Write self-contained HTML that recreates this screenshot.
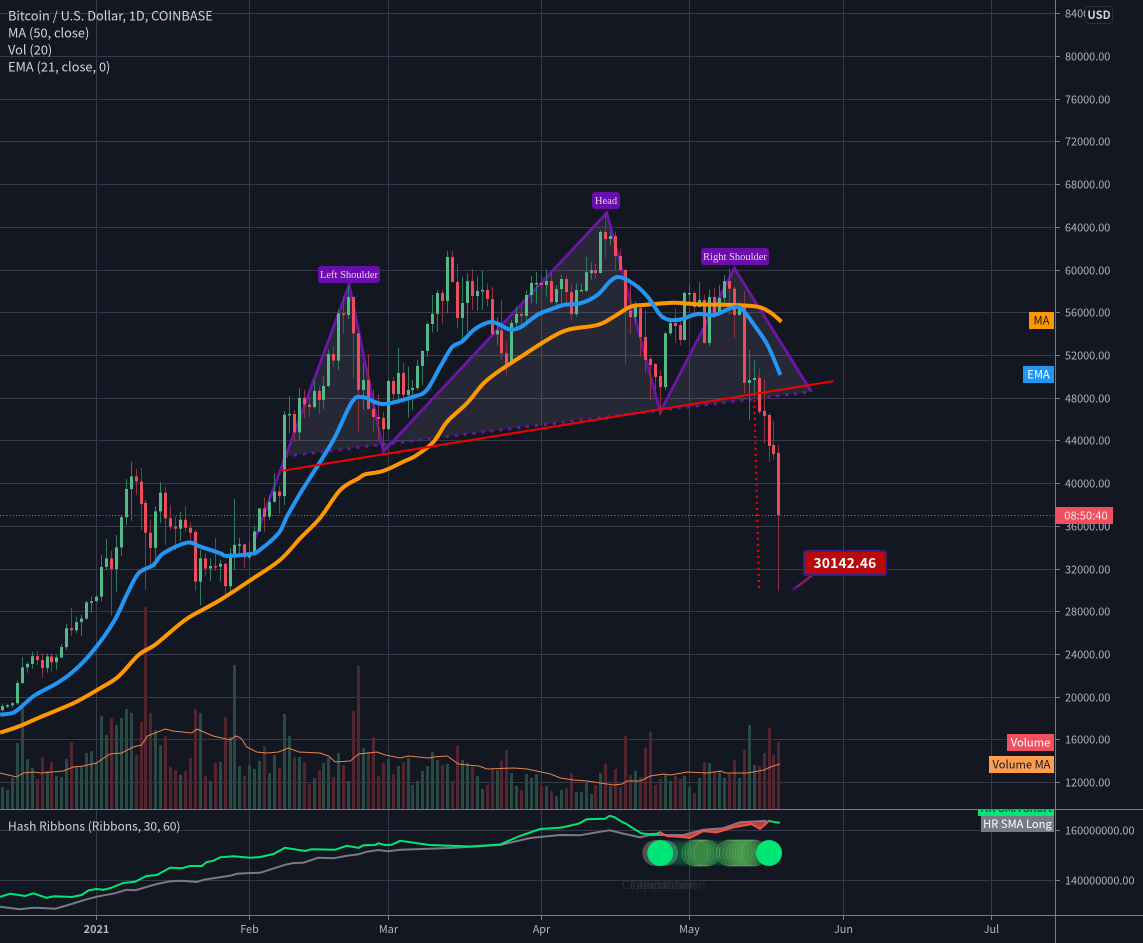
<!DOCTYPE html>
<html lang="en">
<head>
<meta charset="utf-8">
<title>Bitcoin / U.S. Dollar chart</title>
<style>
html,body{margin:0;padding:0;background:#131722;width:1143px;height:943px;overflow:hidden}
svg{display:block;position:absolute;left:0;top:0}
text{font-family:"Noto Sans CJK SC","Liberation Sans",sans-serif}
.ax{font-size:10.9px;fill:#b2b5be}
.lg{font-size:12.8px;fill:#d1d4dc}
.sf{font-family:"Liberation Serif",serif;font-size:10.5px;fill:#e6d0f2;text-anchor:middle}
.bx{font-size:11.2px;text-anchor:middle}
</style>
</head>
<body>
<svg id="c" width="1143" height="943" viewBox="0 0 1143 943" xmlns="http://www.w3.org/2000/svg">
  <defs>
    <clipPath id="mainClip"><rect x="0" y="0" width="1055" height="809"/></clipPath>
    <clipPath id="hashClip"><rect x="0" y="810" width="1055" height="105"/></clipPath>
    <clipPath id="hrClip"><rect x="970" y="810" width="90" height="6"/></clipPath>
  </defs>
  <rect x="0" y="0" width="1143" height="943" fill="#131722"/>
  <g id="grid"></g>
  <g id="volume" clip-path="url(#mainClip)"></g>
  <line x1="0" y1="515.5" x2="1055" y2="515.5" stroke="#ef5350" stroke-width="1" stroke-dasharray="1 2.2"/>
  <g id="pattern" clip-path="url(#mainClip)"></g>
  <g id="candles" clip-path="url(#mainClip)"></g>
  <g id="lines" clip-path="url(#mainClip)"></g>
  <g id="draw" clip-path="url(#mainClip)"></g>
  <g id="hash" clip-path="url(#hashClip)"></g>

  <g>
    <rect x="318" y="266" width="62" height="17" rx="3" fill="#6a0dad"/>
    <text class="sf" x="349" y="278">Left Shoulder</text>
    <rect x="592" y="192" width="28" height="17" rx="3" fill="#6a0dad"/>
    <text class="sf" x="606" y="204">Head</text>
    <rect x="701" y="248" width="68" height="17" rx="3" fill="#6a0dad"/>
    <text class="sf" x="735" y="260">Right Shoulder</text>
  </g>

  <g>
    <line x1="794" y1="589" x2="815" y2="573" stroke="#311b92" stroke-width="3"/>
    <line x1="797" y1="587" x2="815" y2="573" stroke="#b71c1c" stroke-width="1.5"/>
    <circle cx="794" cy="589" r="1.8" fill="#311b92"/>
    <rect x="804" y="551" width="82" height="24" rx="2" fill="#b80a0a" stroke="#38207f" stroke-width="2"/>
    <text x="845" y="568" text-anchor="middle" font-size="13.6" font-weight="700" fill="#fff" letter-spacing=".3">30142.46</text>
  </g>

  <text class="lg" x="8" y="20.5">Bitcoin / U.S. Dollar, 1D, COINBASE</text>
  <text class="lg" x="8" y="37.5">MA (50, close)</text>
  <text class="lg" x="8" y="54.5">Vol (20)</text>
  <text class="lg" x="8" y="71.5">EMA (21, close, 0)</text>
  <text class="lg" x="8" y="830.5" style="font-size:12px">Hash Ribbons (Ribbons, 30, 60)</text>

  <g id="watermark" fill="#2a2e39" font-size="11.5">
    <text x="622" y="889">Capitulation</text>
    <text x="630" y="889">Capitulation</text>
    <text x="639" y="889">Capitulation</text>
  </g>

  <line x1="0" y1="809.5" x2="1143" y2="809.5" stroke="#787b86"/>
  <line x1="0" y1="915.5" x2="1143" y2="915.5" stroke="#787b86"/>
  <line x1="1055.5" y1="0" x2="1055.5" y2="943" stroke="#787b86"/>

  <g id="axes"></g>

  <g>
    <rect x="1029" y="312" width="25" height="17" fill="#ff9800"/>
    <text class="bx" x="1041.5" y="324.5" fill="#131722">MA</text>
    <rect x="1023" y="366" width="31" height="17" fill="#2196f3"/>
    <text class="bx" x="1038.5" y="378.5" fill="#fff">EMA</text>
    <rect x="1007" y="734" width="47" height="17" fill="#ef5060"/>
    <text class="bx" x="1030.5" y="746.5" fill="#fff">Volume</text>
    <rect x="989" y="756" width="65" height="17" fill="#ff9d4d"/>
    <text class="bx" x="1021.5" y="768.5" fill="#131722">Volume MA</text>
    <rect x="978" y="810" width="76" height="6" fill="#00e676"/>
    <text class="bx" x="1016" y="812" fill="#131722" clip-path="url(#hrClip)">HR SMA Short</text>
    <rect x="981" y="816" width="73" height="16" fill="#787b86"/>
    <text class="bx" x="1017.5" y="828" fill="#fff">HR SMA Long</text>
    <rect x="1055" y="507" width="58" height="17" fill="#ef5060"/>
    <text class="bx" x="1086" y="519.5" fill="#ffe3e6">08:50:40</text>
    <rect x="1085.5" y="6.5" width="27" height="17" rx="3" fill="#131722" stroke="#2a2e39"/>
    <text class="bx" x="1099" y="19" fill="#d1d4dc" font-weight="700" font-size="10.5">USD</text>
  </g>
</svg>
<script>
/* ---------- data ---------- */
const firstDay = -19; /* days relative to 1 Jan 2021 */
const opens = [18790,19170,19270,19440,21340,22800,23120,23850,23480,22730,
23820,23270,23730,24700,26470,26270,27040,27370,28890,
28990,29410,32200,33000,31990,34030,36850,39500,40680,40200,
38200,35400,33990,37400,39150,36750,35970,35780,36620,35870,
35480,30820,33000,32050,32290,32240,32500,30400,33450,34270,
34320,33100,33500,35520,37680,36900,38300,39270,38830,46450,
46530,44790,48020,47400,47180,48680,47840,49140,52140,51520,
55950,55780,57480,54070,48770,49710,47000,46240,46150,45100,
49610,48400,50360,48300,48770,48950,51020,52420,54950,55900,
57850,57100,61220,58880,55510,56910,58970,57570,58040,58130,
57290,53980,54340,52200,51200,55040,55890,55700,57660,58690,
58780,58600,58970,57000,58220,59160,57940,55880,58050,58050,
59700,59980,59720,63560,62900,63180,61310,60000,56200,55600,
56450,53730,51670,51200,50080,49050,54070,55040,54850,53450,
57750,57850,56540,57200,53170,57480,55880,57380,58970,58250,
55790,56730,49430,49700,49900,46810,46430,43620,42870];
const highs = [19420,19350,19570,21560,23780,23300,24240,24340,24120,24120,
24120,23960,25000,26870,28360,27550,27710,29020,29420,
29600,33320,34820,33700,35200,37070,40440,42030,41380,41470,
38470,36600,37910,40150,39690,38000,36910,37380,37910,36410,
35660,33790,33480,33040,34920,32860,32560,33980,38570,34920,
34350,34570,36040,37720,38720,38940,40970,39780,46800,48210,
46900,48930,48770,48140,49710,49080,50020,52520,52850,56260,
57500,58600,57500,54070,51300,52140,48770,48400,46740,49800,
50010,52730,51300,50950,49700,51580,52510,55100,57660,58130,
58130,61780,61780,60560,59380,59690,60100,59380,59910,58750,
58440,55570,57200,53300,55320,56570,56570,58130,59440,59800,
59500,60060,59850,58600,59530,59440,58600,58750,58750,61250,
60690,60600,63750,65300,63590,63590,62000,60100,58750,57040,
56880,56250,52050,51270,50640,54230,55480,56410,55320,57970,
58600,57970,58910,57660,58130,58290,58600,59530,60160,58440,
57040,58040,52510,51580,50740,49800,46590,45870,43620];
const lows = [18700,19000,19050,19290,21230,22310,22690,23020,21840,22310,
22400,22560,23620,24430,25740,25990,25740,27240,27930,
28930,28960,31920,27650,29900,33230,36130,36510,38940,35670,
30050,32400,32230,36290,34260,35670,33790,34630,35510,34170,
29950,28640,31360,30890,31830,30800,29170,29860,31920,33420,
32110,32830,33330,35480,35480,36600,38220,37230,37980,44710,
43930,44000,46120,46270,47050,46590,47000,49020,50900,50640,
54070,55400,49860,44870,46900,46900,44780,44090,43500,45000,
47500,47500,47500,46180,46900,48770,49240,51890,54170,54230,
55010,55950,58880,54540,53140,54200,56250,56170,56260,56570,
53920,52980,51580,50170,51200,54400,54630,55170,56880,56880,
58000,57500,56880,56260,56820,56730,55320,55630,57980,57980,
59100,59200,59690,61090,62340,60000,59900,51200,54000,55000,
51890,50330,47830,48770,46430,48770,53900,53140,52980,53390,
56730,55880,56570,53080,52830,55480,55790,56880,55790,53610,
55700,48400,45960,48140,46530,43720,42030,42220,29960];
const closes = [19170,19270,19440,21340,22800,23120,23850,23480,22730,23820,
23270,23730,24700,26470,26270,27040,27370,28890,28990,
29410,32200,33000,31990,34030,36850,39500,40680,40200,38100,
35400,33990,37400,39150,36750,35970,35780,36620,35870,35400,
30820,33000,32050,32290,32240,32500,30400,33450,34270,34320,
33100,33500,35520,37680,36900,38300,39270,38830,46450,46530,
44790,48020,47400,47180,48680,47840,49140,52140,51520,55950,
55780,57480,54070,48770,49710,47000,46240,46050,45100,49610,
48400,50360,48300,48770,48950,51020,52420,54950,55900,57850,
57100,61220,58880,55510,56910,58970,57570,58040,58130,57290,
53980,54340,52200,51200,55040,55890,55700,57660,58790,58800,
58600,58970,57000,58220,59160,57940,55880,58130,58130,59810,
59980,59720,63560,62900,63180,61310,60000,56200,55600,56570,
53730,51580,51110,49990,49050,54070,55040,54760,53450,57850,
57850,56540,57200,53170,57480,55880,57380,58970,58250,55790,
56730,49430,49700,49890,46740,46340,43530,42780,37040];
const volumes = [22,19,31,66,106,50,41,30,52,38,47,33,32,50,67,43,43,56,58,46,
93,74,91,84,91,100,96,54,87,202,96,79,64,73,42,39,34,38,51,100,
96,33,28,46,47,92,72,144,43,33,44,40,48,63,36,54,41,95,73,52,
52,47,25,31,39,46,51,32,56,44,28,98,143,61,57,72,33,46,50,35,43,
47,51,24,28,38,43,57,49,44,45,28,63,49,46,42,33,20,24,40,39,
48,59,36,23,19,35,31,35,23,23,18,13,19,21,36,17,17,26,15,24,
36,45,23,40,22,73,34,38,32,61,77,24,30,34,28,33,30,33,22,16,
31,47,46,37,38,31,35,49,31,59,84,44,43,56,81,54,67];

const emaDays = [-19.5,-16.8,-14.8,-12.4,-7.7,-4,0,3.7,6.1,8.5,11.5,13.5,18.3,21,25,26.4,31,32.8,36.8,38.5,41.2,42.9,47.9,51.7,54,58,64.1,66.8,69.5,71.9,73.9,76.3,79,81,83.4,85.7,89.1,91.1,94.5,97.9,101.3,104,106,109.4,111.7,114.4,117.4,121.5,124.9,128.2,130.3,133,135.7,138.3];
const emaValues = [18370,18560,19280,20210,21400,22710,24740,27240,29580,31610,32390,33480,34470,34100,33480,33230,33410,33720,35350,36910,39100,40340,44090,47670,48080,47460,48140,48770,50950,52770,53290,54390,55070,55010,54450,54640,55790,56190,56730,56890,57660,59000,59320,58440,57350,55630,55320,55880,55790,56420,56420,54850,52980,50170];
const maDays = [-19.5,-15.5,-11.4,-8.7,-4,.7,4.4,8.5,11.8,16.2,18.9,25,31.7,37.1,41.2,45.2,49.3,53,54.4,58,62.1,64.8,68.2,70.9,74.9,78.3,81.7,86.4,91.1,95.2,101.3,104.6,108,110.7,116.8,121.5,128.2,133.6,136.3,138.5];
const maValues = [16680,17310,18130,18650,19590,20840,21930,23960,24900,26610,27540,29110,31140,32850,34880,36780,39410,40500,40880,41190,42060,42680,43930,45800,47520,49400,50640,52050,53450,54390,54850,55630,56570,56730,56940,56790,56730,56570,56010,55160];
const volMaDays = [-19.5,-16.2,-14.8,-12.8,-11.1,-6.7,-4.7,-2.7,0,2.7,5.1,7.4,9.1,10.3,13.9,15.5,19.3,20.3,23.6,27,28.2,29.2,30.4,32.4,34.5,36.8,38.8,40.9,45.2,46.9,48.3,51.3,53,56.7,58.4,61.4,63.1,67.2,68.2,70.9,73.2,74.9,77.3,79,84.4,87.1,91.8,93.8,96.5,99.2,101.9,104.6,106.3,107.3,110,112,114.7,116.1,119.5,123.5,126.2,127.2,131.6,135,136.3,138.2];
const volMaValues = [36,32,36,37,36,38,42,43,46,55,56,62,64,73,80,78,76,80,73,69,73,71,62,57,56,57,61,57,56,53,47,48,55,57,54,51,53,51,52,53,45,44,43,40,41,40,35,31,29,28,26,24,25,28,28,33,35,34,37,36,38,36,36,39,42,45];

const hashShortDays = [-19.5,-17.5,-14.4,-12.8,-10.1,-8.7,-5,-3,-1.6,0,1.4,3,5.4,7.8,10.1,12.2,14.9,17.2,18.9,21.3,22.3,23.6,25,27.7,31.1,33.1,35.8,38.1,42.2,43.5,48.2,50.6,53,54,56.3,57,58.3,59.7,61.4,67.4,75.5,81.6,85.6,89.7,93.7,96.4,97.7,99.1,102.8,103.8,104.8,106.2,107.2,108.5,110.2,111.6,113.3,113.9,115.3,118,120,122.7,125.4,128.8,132.5,134.2,136,137.2,138.2];
const hashShortValues = [133.3,134.5,133.6,134.7,132.9,133.5,133.2,134,135.9,136.4,136.1,136.9,138.8,139.3,141.6,142,144.9,144.7,145.6,145.6,147.2,147.7,149.1,149.5,148.9,149.2,150.4,152.9,151.6,152.3,152.1,153.7,152.9,153.9,154,154.7,154,154.1,155.7,154,153.4,154.2,157.6,160.4,160.9,162,162.7,164.3,164.5,165.7,165.1,163.3,162.4,160.7,158.7,158.3,158.5,159.1,157.6,157.3,156.9,159.6,159.1,161.1,162.4,160.5,163.7,163.1,162.9];
const hashLongDays = [-19.5,-15.5,-13.8,-12.1,-8.4,-5.7,-2,.4,3.7,6.1,7.8,12.2,14.9,17.2,20.3,21.6,23.6,27,28.4,31.1,33.1,38.1,39.8,41.8,44.8,47.9,50.6,53,54.6,57,59,61.4,71.5,81.6,87.7,93.7,97.7,101.8,103.8,105.8,109.9,111.9,118.7,122.7,126.7,130.1,135.5];
const hashLongValues = [129.3,128.3,128.7,128.9,128.5,130,132.3,133.5,134.7,136.1,135.9,138.4,139.5,139.7,139.2,140.1,140.7,141.7,142.5,142.8,142.9,146.1,146.8,146.9,148.9,148.7,149.7,150.3,151.3,152,151.5,152.1,152.8,154,156.8,158,157.9,159.3,159.9,158.9,157.1,158,158,160.1,160.7,163.1,163.7];
const ribbonStart = 113.9;
const ribbonEnd = 136;
const capitulationDays = [113,115];
const faintSignalDays = [115,116,117,118,119,120,124,125,126,127];
const recoverySignalDays = [121,121.6,122.2,122.8,123.4,128,128.6,129.3,130,130.6,131.2,131.8,132.4,133];
const buySignalDays = [114,136];

const priceTicks = [84000,80000,76000,72000,68000,64000,60000,56000,52000,48000,44000,40000,36000,32000,28000,24000,20000,16000,12000];
const hashTicks = [160,140];
const timeLabels = ['2021','Feb','Mar','Apr','May','Jun','Jul'];
const timeDays = [0,31,59,90,120,151,181];

const necklinePrices = [41200,49590];
const necklineDays = [37.5,149];
const targetDays = [133,134];
const targetPrices = [48400,30142.46];
const patternDays = [32,51.1,58,103.2,114,129,144.6];
const patternPrices = [34800,58600,43000,65350,46700,60150,48600];
const baseDays = [38.1,144.6];
const basePrices = [42550,48600];

/* ---------- axes functions ---------- */
const xD = d => 96.5 + d * 4.945;
const yP = p => 56.4 + (80000 - p) * 0.010681;
const yV = v => 809 - v;
const yH = m => 830 + (160 - m) * 2.5;
const px = v => Math.round(v - 0.5) + 0.5;
const NS = 'http://www.w3.org/2000/svg';
function mk(tag, parent, attrs){
  const e = document.createElementNS(NS, tag);
  for (const k in attrs) e.setAttribute(k, attrs[k]);
  parent.appendChild(e);
  return e;
}
const pts = (ds, vs, fy) => ds.map((d, i) => xD(d).toFixed(1) + ',' + fy(vs[i]).toFixed(1)).join(' ');
/* Catmull-Rom smoothing through the read vertices */
function smooth(ds, vs, fy){
  const P = ds.map((d, i) => [xD(d), fy(vs[i])]);
  let s = 'M' + P[0][0].toFixed(1) + ' ' + P[0][1].toFixed(1);
  for (let i = 0; i < P.length - 1; i++) {
    const a = P[Math.max(0, i - 1)], b = P[i], c = P[i + 1], e = P[Math.min(P.length - 1, i + 2)];
    s += ' C' + (b[0] + (c[0] - a[0]) / 6).toFixed(1) + ' ' + (b[1] + (c[1] - a[1]) / 6).toFixed(1) + ' ' +
         (c[0] - (e[0] - b[0]) / 6).toFixed(1) + ' ' + (c[1] - (e[1] - b[1]) / 6).toFixed(1) + ' ' +
         c[0].toFixed(1) + ' ' + c[1].toFixed(1);
  }
  return s;
}

/* ---------- grid ---------- */
const grid = document.getElementById('grid');
const axes = document.getElementById('axes');
const GRID = '#363a4a';
timeDays.forEach((d, i) => {
  const x = px(xD(d));
  const gl = mk('line', grid, {x1:x, y1:0, x2:x, y2:915, stroke:GRID});
  
  
  const tk = mk('line', axes, {x1:x, y1:915, x2:x, y2:920, stroke:'#787b86'});
  
  
  const t = mk('text', axes, {x:x, y:933, 'text-anchor':'middle', class:'ax'});
  
  
  if (i === 0) t.setAttribute('font-weight', '700');
  t.textContent = timeLabels[i];
});
priceTicks.forEach(p => {
  const y = px(yP(p));
  const gl = mk('line', grid, {x1:0, y1:y, x2:1055, y2:y, stroke:GRID});
  
  
  const tk = mk('line', axes, {x1:1055, y1:y, x2:1060, y2:y, stroke:'#787b86'});
  
  
  const t = mk('text', axes, {x:1065, y:y + 4, class:'ax'});
  
  
  t.textContent = p.toFixed(2);
});
hashTicks.forEach(m => {
  const y = px(yH(m));
  const gl = mk('line', grid, {x1:0, y1:y, x2:1055, y2:y, stroke:GRID});
  
  
  const tk = mk('line', axes, {x1:1055, y1:y, x2:1060, y2:y, stroke:'#787b86'});
  
  
  const t = mk('text', axes, {x:1065, y:y + 4, class:'ax'});
  
  
  t.textContent = (m * 1000000).toFixed(2);
});

/* ---------- volume ---------- */
const volG = document.getElementById('volume');
volumes.forEach((v, i) => {
  const x = px(xD(firstDay + i));
  const up = closes[i] >= opens[i];
  const r = mk('rect', volG, {x:x - 1.5, y:yV(v), width:3, height:v, fill: up ? '#284a43' : '#54242f'});
  
  
});

/* ---------- pattern ---------- */
const pat = document.getElementById('pattern');
const fillPts = [[baseDays[0], basePrices[0]]].concat(patternDays.slice(1).map((d, i) => [d, patternPrices[i + 1]]));
const pf = mk('polygon', pat, {points: fillPts.map(a => xD(a[0]).toFixed(1) + ',' + yP(a[1]).toFixed(1)).join(' '), fill:'#f5e6ff', 'fill-opacity':'.085'});


const pb = mk('polyline', pat, {points: pts(baseDays, basePrices, yP), fill:'none', stroke:'#6c16a8', 'stroke-width':3, 'stroke-dasharray':'3 6'});


const pl = mk('polyline', pat, {points: pts(patternDays, patternPrices, yP), fill:'none', stroke:'#6c16a8', 'stroke-width':2.8, 'stroke-linejoin':'miter'});



/* ---------- candles ---------- */
const can = document.getElementById('candles');
closes.forEach((c, i) => {
  const o = opens[i];
  const x = px(xD(firstDay + i));
  const up = c >= o;
  const col = up ? '#53b987' : '#eb4d5c';
  const wick = mk('line', can, {x1:x, x2:x, y1:yP(highs[i]), y2:yP(lows[i]), stroke: up ? '#2f7a60' : '#8c3442', 'stroke-width':1});
  
  
  const top = yP(Math.max(o, c));
  const h = Math.max(1.5, yP(Math.min(o, c)) - top);
  const body = mk('rect', can, {x:x - 1.5, y:top, width:3, height:h, fill:col});
  
  
});

/* ---------- indicator lines ---------- */
const lin = document.getElementById('lines');
const volMa = mk('polyline', lin, {points: pts(volMaDays, volMaValues, yV), fill:'none', stroke:'#e8844a', 'stroke-width':1});


const ma = mk('path', lin, {d: smooth(maDays, maValues, yP), fill:'none', stroke:'#ff9800', 'stroke-width':4, 'stroke-linejoin':'round'});


const ema = mk('path', lin, {d: smooth(emaDays, emaValues, yP), fill:'none', stroke:'#2196f3', 'stroke-width':4, 'stroke-linejoin':'round'});



/* ---------- drawings ---------- */
const dr = document.getElementById('draw');
const neck = mk('polyline', dr, {points: pts(necklineDays, necklinePrices, yP), fill:'none', stroke:'#f50000', 'stroke-width':2});


const tgt = mk('polyline', dr, {points: pts(targetDays, targetPrices, yP), fill:'none', stroke:'#f50000', 'stroke-width':2.2, 'stroke-dasharray':'2 4'});



/* ---------- hash ribbons ---------- */
const hg = document.getElementById('hash');
function hashAt(ds, vs, d){
  for (let i = 1; i < ds.length; i++) {
    if (d <= ds[i]) return vs[i - 1] + (vs[i] - vs[i - 1]) * (d - ds[i - 1]) / (ds[i] - ds[i - 1]);
  }
  return vs[vs.length - 1];
}
function inRange(ds, vs){
  const a = [[ribbonStart, hashAt(ds, vs, ribbonStart)]];
  ds.forEach((d, i) => { if (d > ribbonStart && d < ribbonEnd) a.push([d, vs[i]]); });
  a.push([ribbonEnd, hashAt(ds, vs, ribbonEnd)]);
  return a;
}
const sRange = inRange(hashShortDays, hashShortValues);
const lRange = inRange(hashLongDays, hashLongValues);
const hl = mk('polyline', hg, {points: pts(hashLongDays, hashLongValues, yH), fill:'none', stroke:'#787b86', 'stroke-width':2});


const hs = mk('polyline', hg, {points: pts(hashShortDays, hashShortValues, yH), fill:'none', stroke:'#00e676', 'stroke-width':2});


const rib = mk('polygon', hg, {points: sRange.concat(lRange.slice().reverse()).map(a => xD(a[0]).toFixed(1) + ',' + yH(a[1]).toFixed(1)).join(' '), fill:'#ef5350', 'fill-opacity':'.7'});


const hr = mk('polyline', hg, {points: sRange.map(a => xD(a[0]).toFixed(1) + ',' + yH(a[1]).toFixed(1)).join(' '), fill:'none', stroke:'#f44b4b', 'stroke-width':2});


const sigY = 853;
capitulationDays.forEach(d => {
  const c = mk('circle', hg, {cx:xD(d), cy:sigY, r:13, fill:'#9e9e9e', 'fill-opacity':'.42'});
  
  
});
faintSignalDays.forEach(d => {
  const c = mk('circle', hg, {cx:xD(d), cy:sigY, r:13, fill:'#00e676', 'fill-opacity':'.07'});
  
  
});
recoverySignalDays.forEach(d => {
  const c = mk('circle', hg, {cx:xD(d), cy:sigY, r:13, fill:'#4caf50', 'fill-opacity':'.22', stroke:'#66bb6a', 'stroke-opacity':'.45', 'stroke-width':1});
  
  
});
buySignalDays.forEach(d => {
  const c = mk('circle', hg, {cx:xD(d), cy:sigY, r:13, fill:'#00e676'});
  
  
});
</script>
</body>
</html>
